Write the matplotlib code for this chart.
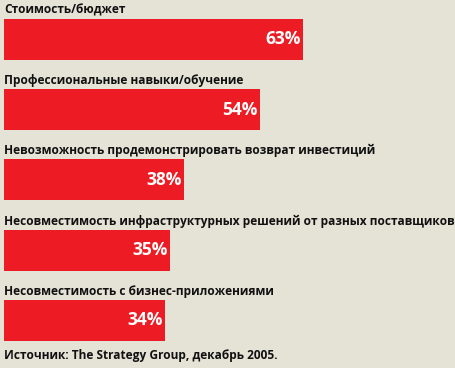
import matplotlib
matplotlib.use('Agg')
import matplotlib.pyplot as plt

# данные
labels = [
    'Стоимость/бюджет',
    'Профессиональные навыки/обучение',
    'Невозможность продемонстрировать возврат инвестиций',
    'Несовместимость инфраструктурных решений от разных поставщиков',
    'Несовместимость с бизнес-приложениями',
]
values = [63, 54, 38, 35, 34]
source = 'Источник: The Strategy Group, декабрь 2005.'

bg = '#e5e2d6'
red = '#ed1c24'
W, H = 456, 368
px_per_pct = 299 / 63
step = 70.25
top0 = 39.5

fig = plt.figure(figsize=(W / 100, H / 100), dpi=100, facecolor=bg)
ax = fig.add_axes([0, 0, 1, 1])
ax.set_facecolor(bg)
ax.set_xlim(-4 / px_per_pct, (W - 4) / px_per_pct)
ax.set_ylim((H - top0) / step, -top0 / step)
ax.axis('off')

pos = list(range(len(values)))
ax.barh(pos, values, height=41 / step, color=red, linewidth=0)

for i, (lab, v) in enumerate(zip(labels, values)):
    ax.text(0, i - 0.5 * 41 / step - 2 / step, lab, ha='left', va='bottom',
            fontsize=8.6, fontweight='bold', color='#111111', family='Open Sans')
    ax.text(v - 2.5 / px_per_pct, i, f'{v}%', ha='right', va='center',
            fontsize=12.5, fontweight='bold', color='white', family='Open Sans')

ax.text(0, (355 - top0) / step, source, ha='left', va='center',
        fontsize=8.6, fontweight='bold', color='#111111', family='Open Sans')

fig.savefig('out.png', dpi=100, facecolor=bg)
